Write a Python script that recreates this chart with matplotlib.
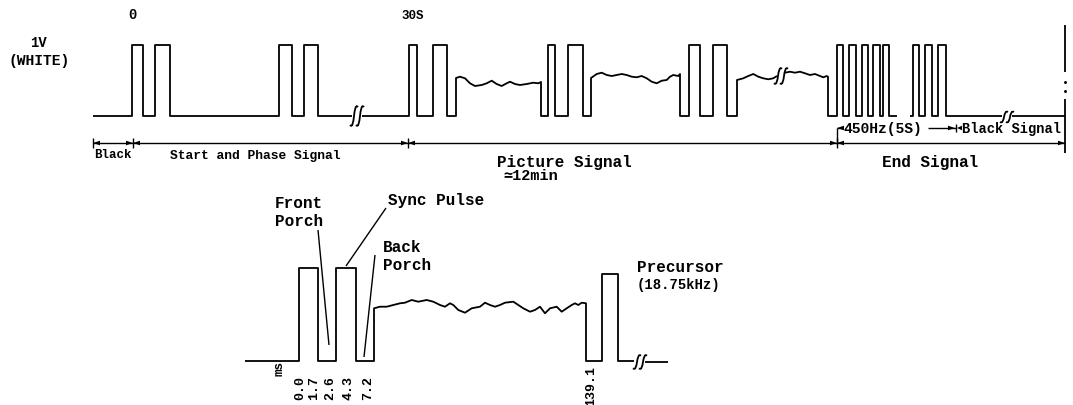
import matplotlib
matplotlib.use("Agg")
import matplotlib.pyplot as plt
from matplotlib.path import Path
from matplotlib.patches import PathPatch

# ---------------- texts / values ----------------
top_marks = ["0", "30S"]
level_label = ["1V", "(WHITE)"]
segment_names = ["Black", "Start and Phase Signal", "Picture Signal", "End Signal"]
picture_duration = "\u224312min"
end_parts = ["450Hz(5S)", "Black Signal"]
line_times = ["0.0", "1.7", "2.6", "4.3", "7.2", "139.1"]
line_unit = "ms"
line_parts = [["Front", "Porch"], ["Sync Pulse"], ["Back", "Porch"], ["Precursor", "(18.75kHz)"]]

# ---------------- drawing geometry (schematic, pixel space) ----------------
W, H = 1073, 405
fig = plt.figure(figsize=(W / 100, H / 100), dpi=100)
ax = fig.add_axes([0, 0, 1, 1])
ax.set_xlim(0, W)
ax.set_ylim(H, 0)
ax.axis("off")

FONT = ["Liberation Mono", "DejaVu Sans Mono"]
LW = 1.3
K = "black"


def line(pts, lw=LW):
    xs, ys = zip(*pts)
    ax.plot(xs, ys, color=K, lw=lw, solid_joinstyle="round", solid_capstyle="butt")


def pulses(x0, edges, x1, low, high):
    pts = [(x0, low)]
    for r, f in edges:
        pts += [(r, low), (r, high), (f, high), (f, low)]
    pts.append((x1, low))
    return pts


def brk(x, y, h):
    for dx in (-3, 3):
        cx = x + dx
        verts = [(cx - 4, y + h * 0.45), (cx + 1, y + h * 0.75), (cx - 1, y - h * 0.75), (cx + 4, y - h * 0.45)]
        ax.add_patch(PathPatch(Path(verts, [Path.MOVETO, Path.CURVE4, Path.CURVE4, Path.CURVE4]),
                               fill=False, lw=LW, color=K))


def head(x, y, direction, length=7, half=2.3):
    ax.fill([x, x - direction * length, x - direction * length], [y, y - half, y + half], color=K, lw=0)


def txt(x, y, s, size, ha="left", rot=0):
    ax.text(x, y, s, fontsize=size, family=FONT, fontweight="bold", ha=ha, va="center",
            rotation=rot, color=K)


# picture-signal wiggles
wave1 = [(456, 78), (460, 76.7), (465, 78.3), (470, 83.3), (475, 86), (481.7, 85), (486.7, 83.3),
         (491.7, 80.7), (496.7, 84), (501.7, 86), (506.7, 83.3), (510, 81.7), (515, 84), (520, 85),
         (526.7, 84), (533.3, 82.7), (538.3, 83.3), (541, 82)]
wave2 = [(591, 78), (596.7, 74), (601.7, 72.7), (606.7, 75), (611.7, 76), (616.7, 75), (621.7, 74),
         (626.7, 75), (631.7, 76.7), (636.7, 77.3), (641.7, 76), (646.7, 78.3), (651.7, 81.7),
         (656.7, 83.3), (661.7, 80.7), (666.7, 80), (670, 76.7), (673.3, 75), (678.3, 76), (680, 74)]
wave3a = [(737, 80), (743.3, 78.3), (748.3, 76), (753.3, 74), (758.3, 76.7), (763.3, 78.3),
          (768.3, 79.3), (773.3, 78.3), (777, 76)]
wave3b = [(785, 72.7), (790, 71.7), (795, 72.7), (800, 71.7), (805, 73.3), (810, 75), (815, 74),
          (820, 76), (823.3, 77.3), (826.7, 76), (828, 76.7)]
wave_b = [(374, 308.3), (380, 306.7), (386.7, 306.7), (393.3, 305), (400, 303.3), (405, 302.7),
          (411.7, 300), (418.3, 301.7), (426.7, 300), (433.3, 301.7), (440, 305), (445, 306.7),
          (450, 303.3), (453.3, 305), (458.3, 310), (465, 312.7), (471.7, 308.3), (480, 306.7),
          (485, 302.7), (490, 305), (495, 306.7), (500, 305), (505, 302.7), (513.3, 301.7),
          (518.3, 305), (523.3, 308.3), (530, 311.7), (535, 310), (540, 306.7), (545, 313.3),
          (550, 308.3), (556.7, 306.7), (561.7, 311.7), (566.7, 308.3), (571.7, 305), (575, 303.3),
          (578.3, 305), (581.7, 302.7), (586, 303.3)]

LO, HI = 116, 45
# ---------------- top waveform ----------------
line(pulses(93, [(132, 143), (155, 170), (279, 292), (304, 318)], 352, LO, HI))
brk(357, LO, 20)
p = pulses(362, [(409, 417), (433, 447)], 456, LO, HI)
p += wave1 + [(541, LO)]
p += pulses(541, [(548, 555), (568, 583)], 591, LO, HI)[1:]
p += wave2 + [(680, LO)]
p += pulses(680, [(689, 700), (713, 727)], 737, LO, HI)[1:]
p += wave3a
line(p)
brk(781, 76, 16)
p = wave3b + [(828, LO)]
p += pulses(828, [(837, 843), (849, 856), (862, 868), (873, 880), (883, 889)], 897, LO, HI)[1:]
line(p)
line(pulses(910, [(913, 919), (925, 932), (938, 946)], 1002, LO, HI))
brk(1007, LO + 1, 11)
line([(1012, LO), (1065, LO)])

# right end vertical
line([(1065, 25), (1065, 72)])
ax.plot([1065, 1065], [82, 91], color=K, lw=0, marker="o", ms=1.1)
line([(1065, 99), (1065, 153)])

# ---------------- dimension rows ----------------
DY = 143
bounds = [93, 133, 408, 837, 1065]
for i in range(len(bounds) - 1):
    a, b = bounds[i], bounds[i + 1]
    line([(a, DY), (b, DY)], lw=1.0)
    head(a, DY, -1)
    head(b, DY, 1)
for b in bounds[:-1]:
    line([(b, DY - 5), (b, DY + 5)], lw=1.0)

DY2 = 128
line([(837, DY2), (837, DY)], lw=1.0)
line([(837, DY2), (842, DY2)], lw=1.0)
head(837, DY2, -1)
line([(928, DY2), (956, DY2)], lw=1.0)
head(955, DY2, 1)
line([(956, DY2 - 4), (956, DY2 + 4)], lw=1.0)
head(957, DY2, -1, length=5)

# ---------------- top texts ----------------
txt(132, 15, top_marks[0], 10, ha="center")
txt(413, 16, top_marks[1], 9, ha="center")
txt(38, 43, level_label[0], 10, ha="center")
txt(39, 61, level_label[1], 10.5, ha="center")
txt(94, 155, segment_names[0], 9)
txt(170, 156, segment_names[1], 9.4)
txt(497, 163, segment_names[2], 11.5)
txt(503, 176, picture_duration, 11)
txt(882, 162, segment_names[3], 11.5)
txt(843, 129, end_parts[0], 10.5)
txt(962, 129, end_parts[1], 9.9)

# ---------------- bottom (one line) waveform ----------------
BLO, BHI, PHI = 361, 268, 274
p = pulses(245, [(299, 318), (336, 356)], 374, BLO, BHI)
p += wave_b + [(586, BLO)]
p += pulses(586, [(602, 618)], 634, BLO, PHI)[1:]
line(p)
brk(640, BLO + 1, 14)
line([(645, BLO + 1), (668, BLO + 1)])

# leaders
line([(318, 230), (329, 345)], lw=1.0)
line([(386, 208), (346, 266)], lw=1.0)
line([(375, 255), (364, 357)], lw=1.0)

txt(275, 204, line_parts[0][0], 11.5)
txt(275, 221, line_parts[0][1], 11.5)
txt(388, 201, line_parts[1][0], 11.5)
txt(383, 248, line_parts[2][0], 11.5)
txt(383, 265, line_parts[2][1], 11.5)
txt(637, 267, line_parts[3][0], 11.5)
txt(637, 285, line_parts[3][1], 10)

txt(280, 368, line_unit, 9, ha="center", rot=90)
for x, s in zip([300, 314, 330, 349, 368, 591], line_times):
    txt(x, 388 if s != "139.1" else 386, s, 9.5, ha="center", rot=90)

fig.savefig("out.png", dpi=100, facecolor="white")
